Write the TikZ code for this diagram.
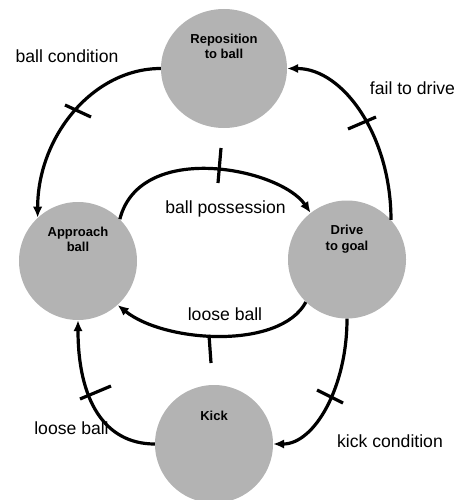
\documentclass[tikz,border=0pt]{standalone}
\usepackage{fontspec}
\setmainfont{Liberation Sans}
\usetikzlibrary{arrows.meta,shapes.geometric}
\definecolor{stategray}{RGB}{179,179,179}
\begin{document}
\begin{tikzpicture}[x=1pt,y=-1pt,
  state/.style={circle, fill=stategray, draw=none, minimum size=118pt, inner sep=0pt},
  statelbl/.style={anchor=base, font=\fontsize{13}{15.5}\selectfont\bfseries, inner sep=0pt},
  edgelbl/.style={anchor=base, font=\fontsize{17.6}{20}\selectfont, inner sep=0pt},
  trans/.style={line width=3.2pt, -{Latex[length=11pt,width=9.5pt]}},
  tickmark/.style={line width=3.2pt}]
\useasboundingbox (0,0) rectangle (461,500);
% states
\node[ellipse, fill=stategray, draw=none, minimum width=126pt, minimum height=119pt, inner sep=0pt] (rep) at (224,68.5) {};
\node[state] (app) at (78,261) {};
\node[state] (drv) at (347,259.5) {};
\node[state] (kick) at (214,444) {};
% state labels
\node[statelbl] (repT) at ([yshift=25pt]rep.center) {\begin{tabular}[t]{@{}c@{}}Reposition\\to ball\end{tabular}};
\node[statelbl] (appT) at ([yshift=25pt]app.center) {\begin{tabular}[t]{@{}c@{}}Approach\\ball\end{tabular}};
\node[statelbl] (drvT) at ([yshift=25pt]drv.center) {\begin{tabular}[t]{@{}c@{}}Drive\\to goal\end{tabular}};
\node[statelbl] (kickT) at ([yshift=24pt]kick.center) {Kick};
% transitions
\draw[trans] (rep.west) .. controls +(-68,0) and +(0,-81) .. (app.133);
\draw[trans] (drv.42) .. controls +(0,-84) and +(56,0) .. (rep.east);
\draw[trans] (app.45) .. controls (140,140) and (280,168) .. (drv.128);
\draw[trans] (drv.226) .. controls (280,350) and (165,343) .. (app.312);
\draw[trans] (drv.south) .. controls +(0,69) and +(41,0) .. (kick.east);
\draw[trans] (kick.west) .. controls +(-51,0) and +(0,79) .. (app.south);
% tick marks
\draw[tickmark] (65,105) -- (91,117);
\draw[tickmark] (348,129) -- (376,117);
\draw[tickmark] (221,148) -- (218,183);
\draw[tickmark] (209,335) -- (211,363);
\draw[tickmark] (317,390) -- (343,403);
\draw[tickmark] (80,399) -- (111,386);
% transition labels
\node[edgelbl] (lbc) at (67,62.7) {ball condition};
\node[edgelbl] (lfd) at (412.5,94.3) {fail to drive};
\node[edgelbl] (lbp) at (225.5,213) {ball possession};
\node[edgelbl] (llb1) at (225,320) {loose ball};
\node[edgelbl] (llb2) at (71.5,434) {loose ball};
\node[edgelbl] (lkc) at (390,447) {kick condition};
\end{tikzpicture}
\end{document}
